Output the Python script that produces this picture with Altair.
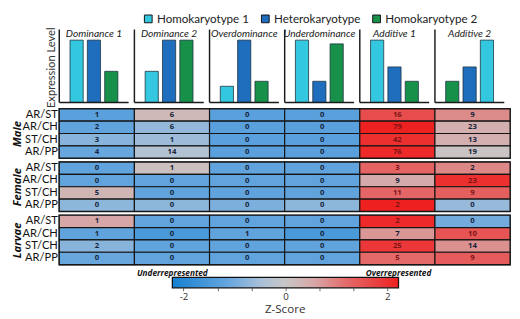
import altair as alt
import pandas as pd

FONT = "Open Sans"
NARROW = "Lato"

# ---- bar panels ----
patterns = ["Dominance 1", "Dominance 2", "Overdominance", "Underdominance", "Additive 1", "Additive 2"]
genotypes = ["Homokaryotype 1", "Heterokaryotype", "Homokaryotype 2"]
geno_colors = ["#33c8df", "#1f6dbd", "#17914a"]
bar_h1 = [1.0, 0.5, 0.26, 1.0, 1.0, 1.0]
bar_het = [1.0, 1.0, 1.0, 0.34, 0.57, 0.57]
bar_h2 = [0.5, 1.0, 0.34, 0.94, 0.34, 0.34]
bar_order = [genotypes] * 5 + [["Homokaryotype 2", "Heterokaryotype", "Homokaryotype 1"]]

# ---- heatmap ----
rows = ["AR/ST", "AR/CH", "ST/CH", "AR/PP"]
groups = ["Male", "Female", "Larvae"]

male_counts = [[1, 2, 3, 4], [6, 6, 1, 14], [0, 0, 0, 0], [0, 0, 0, 0], [16, 79, 42, 76], [9, 23, 13, 19]]
female_counts = [[0, 0, 5, 0], [1, 0, 0, 0], [0, 0, 0, 0], [0, 0, 0, 0], [3, 9, 11, 2], [2, 23, 9, 0]]
larvae_counts = [[1, 1, 2, 0], [0, 0, 0, 0], [0, 1, 0, 0], [0, 0, 0, 0], [2, 7, 25, 5], [0, 10, 14, 9]]

male_z = [[-1.3, -1.2, -0.8, -1.1], [0.25, -0.7, -0.6, -0.35], [-1.3, -1.3, -1.3, -1.3],
          [-1.3, -1.3, -1.3, -1.3], [1.6, 2.2, 2.0, 2.1], [0.85, 0.4, 0.4, 0.05]]
female_z = [[-1.2, -1.2, 0.3, -0.75], [0.1, -1.2, -1.2, -0.75], [-1.2, -1.2, -1.2, -0.9],
            [-1.2, -1.2, -1.2, -0.75], [1.3, 0.5, 1.25, 2.2], [0.9, 2.0, 1.35, -0.65]]
larvae_z = [[0.55, -1.2, -0.8, -1.1], [-1.2, -1.5, -1.2, -1.2], [-1.2, -1.2, -1.2, -1.2],
            [-1.2, -1.5, -1.2, -1.2], [2.1, 0.75, 1.9, 1.2], [-1.0, 1.5, 0.8, 1.4]]

z_stops = [-2.22, -1.1, -0.5, 0.0, 0.6, 1.2, 2.22]
z_colors = ["#1580d0", "#68a7de", "#a8c0d8", "#c8c6c6", "#d8a4a4", "#e46a6a", "#ee2020"]

legend_ends = [-2.22, 2.22]
legend_texts = ["Underrepresented", "Overrepresented"]
legend_ticks = [-2, -4 / 3, -2 / 3, 0, 2 / 3, 4 / 3, 2]

W = 466

# ---------------- bars (one chart, panels as bands) ----------------
bar_recs = []
for i, p in enumerate(patterns):
    vals = {genotypes[0]: bar_h1[i], genotypes[1]: bar_het[i], genotypes[2]: bar_h2[i]}
    for s, g in enumerate(bar_order[i]):
        bar_recs.append({"pattern": p, "slot": s, "genotype": g, "value": vals[g]})
bar_df = pd.DataFrame(bar_recs)
panel_df = pd.DataFrame({"pattern": patterns})

x_band = alt.Scale(domain=patterns, paddingInner=0.077, paddingOuter=0.0385, align=0)
y_bar = alt.Scale(domain=[-0.04, 1.17], nice=False, zero=False)

bar_layer = alt.Chart(bar_df).mark_bar(stroke="#1d3340", strokeWidth=0.8).encode(
    x=alt.X("pattern:N", scale=x_band, axis=None),
    xOffset=alt.XOffset("slot:O", scale=alt.Scale(paddingInner=0.24, paddingOuter=0.62)),
    y=alt.Y("value:Q", scale=y_bar,
            axis=alt.Axis(domain=False, labels=False, ticks=False, grid=False,
                          title="Expression Level", titleFont=NARROW, titleFontSize=11.5,
                          titleFontWeight="normal", titleColor="#333", titlePadding=3)),
    y2=alt.datum(0),
    color=alt.Color("genotype:N", scale=alt.Scale(domain=genotypes, range=geno_colors),
                    legend=alt.Legend(orient="none", legendX=86, legendY=-17, direction="horizontal",
                                      title=None, symbolType="square", symbolSize=64,
                                      symbolStrokeColor="#111", symbolStrokeWidth=1, padding=0,
                                      labelFontSize=12, labelFont=NARROW, columnPadding=10,
                                      labelColor="#222", labelOffset=3)),
)
vrule = alt.Chart(panel_df).mark_rule(color="#1a1a1a", strokeWidth=1.5).encode(
    x=alt.X("pattern:N", scale=x_band, bandPosition=0),
    y=alt.datum(0),
    y2=alt.datum(1.17),
)
baseline = alt.Chart(panel_df).mark_rect(fillOpacity=0, stroke="#1a1a1a", strokeWidth=1.5).encode(
    x=alt.X("pattern:N", scale=x_band),
    y=alt.datum(0),
    y2=alt.datum(0),
)
ptitle = alt.Chart(panel_df).mark_text(font=NARROW, fontStyle="italic", fontSize=10.5,
                                       color="#222", baseline="middle").encode(
    x=alt.X("pattern:N", scale=x_band),
    y=alt.datum(1.1),
    text="pattern:N",
)
bars = alt.layer(bar_layer, vrule, baseline, ptitle).properties(width=W, height=78)

# ---------------- heatmap ----------------
z_scale = alt.Scale(domain=z_stops, range=z_colors, interpolate="rgb", clamp=True)


def heat(name, counts, zs):
    recs = []
    for j, p in enumerate(patterns):
        for k, r in enumerate(rows):
            recs.append({"pattern": p, "row": r, "count": counts[j][k], "z": zs[j][k]})
    df = pd.DataFrame(recs)
    base = alt.Chart(df).encode(
        x=alt.X("pattern:N", sort=patterns, axis=None, scale=alt.Scale(paddingInner=0, paddingOuter=0)),
        y=alt.Y("row:N", sort=rows, scale=alt.Scale(paddingInner=0, paddingOuter=0),
                axis=alt.Axis(title=name, ticks=False, domain=False, labelFontSize=11.5,
                              labelFont=NARROW, labelColor="#111",
                              labelPadding=2, titleFontStyle="italic", titleFontWeight="bold",
                              titleFontSize=11.5, titleFont=FONT, titleColor="#111", titlePadding=0)),
    )
    rect = base.mark_rect(stroke="#151515", strokeWidth=1.2).encode(
        fill=alt.Fill("z:Q", scale=z_scale, legend=None))
    text = base.mark_text(font=FONT, fontSize=8, fontWeight="bold").encode(
        text="count:Q",
        color=alt.condition("datum.z > 1", alt.value("#7d1515"), alt.value("#16243a")),
    )
    return alt.layer(rect, text).properties(
        width=W, height=51, view=alt.ViewBackground(stroke="#111", strokeWidth=1.6))


# ---------------- gradient legend ----------------
z_lo, z_hi = legend_ends
grad_stops = [alt.GradientStop(color=c, offset=(z - z_lo) / (z_hi - z_lo)) for z, c in zip(z_stops, z_colors)]
xsc = alt.Scale(domain=[-4.44, 4.41], nice=False, zero=False)
ysc = alt.Scale(domain=[0, 1.85], nice=False, zero=False)

grad_df = pd.DataFrame({"lo": [legend_ends[0]], "hi": [legend_ends[1]], "b": [0], "t": [1]})
grad_rect = alt.Chart(grad_df).mark_rect(
    fill=alt.Gradient(gradient="linear", stops=grad_stops, x1=0, x2=1, y1=0, y2=0),
    stroke="#111", strokeWidth=1.3,
).encode(
    x=alt.X("lo:Q", scale=xsc, axis=alt.Axis(
        values=legend_ticks, grid=False, domain=False, tickSize=3, tickColor="#666",
        labelExpr="datum.value == -2 ? '-2' : datum.value == 0 ? '0' : datum.value == 2 ? '2' : ''",
        labelFontSize=10, labelColor="#333", labelPadding=1, title="Z-Score", titleFontSize=12,
        titleFontWeight="normal", titleColor="#333", titlePadding=3, titleFont=FONT)),
    x2="hi:Q",
    y=alt.Y("b:Q", scale=ysc, axis=None),
    y2="t:Q",
)
txt_df = pd.DataFrame({"z": legend_ends, "label": legend_texts, "h": [1.45, 1.45]})
grad_txt = alt.Chart(txt_df).mark_text(fontStyle="italic", fontWeight="bold", fontSize=8.5,
                                       font=FONT, color="#111").encode(
    x=alt.X("z:Q", scale=xsc),
    y=alt.Y("h:Q", scale=ysc),
    text="label:N",
)
grad = alt.layer(grad_rect, grad_txt).properties(width=W, height=20)

chart = alt.vconcat(
    bars,
    heat(groups[0], male_counts, male_z),
    heat(groups[1], female_counts, female_z),
    heat(groups[2], larvae_counts, larvae_z),
    grad,
    spacing=4, bounds="flush",
).properties(padding={"left": 2, "top": 0, "right": 0, "bottom": 0}).configure(font=FONT).configure_view(stroke=None)

chart.save("out.html", embed_options={"renderer": "svg", "actions": False})
